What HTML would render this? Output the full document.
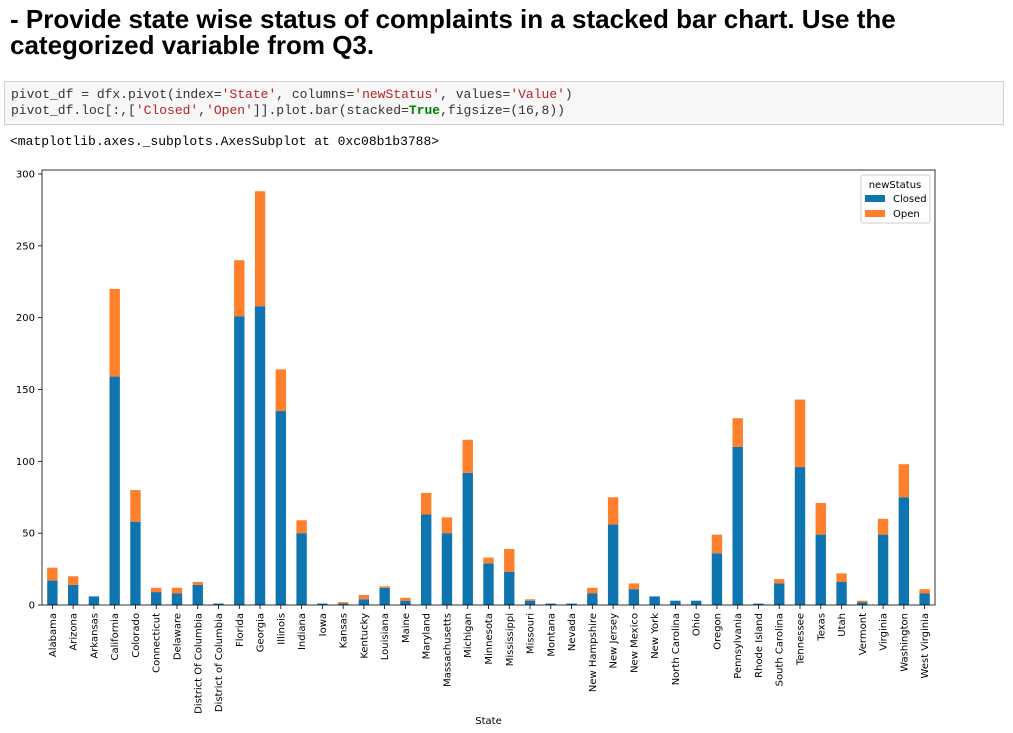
<!DOCTYPE html>
<html><head><meta charset="utf-8"><style>
body{margin:0;width:1013px;height:733px;background:#fff;overflow:hidden;font-family:"Liberation Sans",sans-serif;position:relative}
h1{position:absolute;left:10px;top:6px;margin:0;font-size:26px;line-height:26px;font-weight:bold;color:#000}
.code{position:absolute;left:4px;top:81px;width:1000px;height:44px;background:#f7f7f7;border:1px solid #cfcfcf;box-sizing:border-box;font-family:"Liberation Mono",monospace;font-size:13px;line-height:16px;padding:5px 6px;color:#333;white-space:pre}
.s{color:#ba2121}.k{color:#008000;font-weight:bold}
.out{position:absolute;left:10px;top:134px;font-family:"Liberation Mono",monospace;font-size:13px;color:#000;white-space:pre}
svg{position:absolute;left:0;top:0}
</style></head><body>
<h1>- Provide state wise status of complaints in a stacked bar chart. Use the<br>categorized variable from Q3.</h1>
<div class="code">pivot_df = dfx.pivot(index=<span class="s">'State'</span>, columns=<span class="s">'newStatus'</span>, values=<span class="s">'Value'</span>)
pivot_df.loc[:,[<span class="s">'Closed'</span>,<span class="s">'Open'</span>]].plot.bar(stacked=<span class="k">True</span>,figsize=(16,8))</div>
<div class="out">&lt;matplotlib.axes._subplots.AxesSubplot at 0xc08b1b3788&gt;</div>
<svg id="chart" width="1013" height="733"></svg>
<script>
const states=["Alabama","Arizona","Arkansas","California","Colorado","Connecticut","Delaware","District Of Columbia","District of Columbia","Florida","Georgia","Illinois","Indiana","Iowa","Kansas","Kentucky","Louisiana","Maine","Maryland","Massachusetts","Michigan","Minnesota","Mississippi","Missouri","Montana","Nevada","New Hampshire","New Jersey","New Mexico","New York","North Carolina","Ohio","Oregon","Pennsylvania","Rhode Island","South Carolina","Tennessee","Texas","Utah","Vermont","Virginia","Washington","West Virginia"];
const closed=[17,14,6,159,58,9,8,14,1,201,208,135,50,1,1,4,12,3,63,50,92,29,23,3,1,1,8,56,11,6,3,3,36,110,1,15,96,49,16,2,49,75,8];
const open=[9,6,0,61,22,3,4,2,0,39,80,29,9,0,1,3,1,2,15,11,23,4,16,1,0,0,4,19,4,0,0,0,13,20,0,3,47,22,6,1,11,23,3];
const yTicks=[0,50,100,150,200,250,300];
const NS="http://www.w3.org/2000/svg";
const svg=document.getElementById('chart');
const L=42,R=935,T=170,B=605;
const y=v=>B-(v/300)*431;
const step=(R-L)/states.length;
const xc=i=>L+step*(i+0.5);
const bw=step*0.5;
function mk(tag,attrs){const e=document.createElementNS(NS,tag);for(const k in attrs)e.setAttribute(k,attrs[k]);svg.appendChild(e);return e;}
states.forEach((s,i)=>{
  const b1=mk('rect',{x:xc(i)-bw/2,y:y(closed[i]),width:bw,height:B-y(closed[i]),fill:'#0e75b1'});
  
  
  const b2=mk('rect',{x:xc(i)-bw/2,y:y(closed[i]+open[i]),width:bw,height:y(closed[i])-y(closed[i]+open[i]),fill:'#fe7f2c'});
  
  
  mk('line',{x1:xc(i),x2:xc(i),y1:B,y2:B+4,stroke:'#000','stroke-width':0.8});
  const t=mk('text',{x:0,y:0,transform:`translate(${xc(i)+3.5},${B+8}) rotate(-90)`,'text-anchor':'end','font-size':10,'font-family':'DejaVu Sans, sans-serif',fill:'#000'});
  t.textContent=s;
  
  
});
yTicks.forEach(v=>{
  mk('line',{x1:L-4,x2:L,y1:y(v),y2:y(v),stroke:'#000','stroke-width':0.8});
  const t=mk('text',{x:L-7,y:y(v)+3.5,'text-anchor':'end','font-size':10,'font-family':'DejaVu Sans, sans-serif',fill:'#000'});
  t.textContent=v;
  
  
});
const frame=mk('rect',{x:L,y:T,width:R-L,height:B-T,fill:'none',stroke:'#000','stroke-width':0.8});


const xt=mk('text',{x:(L+R)/2,y:724,'text-anchor':'middle','font-size':10,'font-family':'DejaVu Sans, sans-serif'});
xt.textContent='State';


const lg=mk('rect',{x:861,y:175,width:69,height:48,fill:'#fff',stroke:'#ccc','stroke-width':1,rx:2});


const lt=mk('text',{x:895,y:188,'text-anchor':'middle','font-size':10,'font-family':'DejaVu Sans, sans-serif'});lt.textContent='newStatus';


[['Closed','#0e75b1',195],['Open','#fe7f2c',210]].forEach(([n,c,yy])=>{
  const sw=mk('rect',{x:865,y:yy,width:20,height:7,fill:c});
  
  
  const t=mk('text',{x:893,y:yy+7,'font-size':10,'font-family':'DejaVu Sans, sans-serif'});t.textContent=n;
  
  
});
</script>
</body></html>
